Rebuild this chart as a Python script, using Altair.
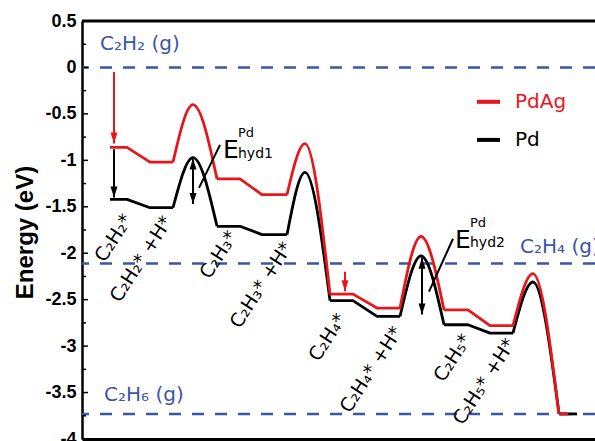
import altair as alt
import pandas as pd

# ---------------- data ----------------
# reaction-coordinate positions of the profile vertices (arbitrary units)
coord_pdag = [28, 45, 68, 91, 111, 135, 158, 180, 205, 223, 248, 271, 295, 318, 339, 362, 386, 408, 431, 451, 477, 486]
coord_pd = [28, 45, 68, 91, 111, 135, 158, 180, 205, 223, 248, 271, 295, 318, 339, 362, 386, 408, 431, 451, 477, 495]
energy_pdag = [-0.86, -0.86, -1.02, -1.02, -0.40, -1.20, -1.20, -1.37, -1.37, -0.82, -2.44, -2.44,
               -2.59, -2.59, -1.82, -2.61, -2.61, -2.78, -2.78, -2.22, -3.73, -3.73]
energy_pd = [-1.42, -1.42, -1.51, -1.51, -0.97, -1.71, -1.71, -1.80, -1.80, -1.13, -2.51, -2.51,
             -2.68, -2.68, -2.03, -2.77, -2.77, -2.86, -2.86, -2.31, -3.73, -3.73]
peak_index = [4, 9, 14, 19]   # vertices that are transition states

# gas-phase reference levels
gas_energy = [0.0, -2.11, -3.73]
gas_label = ["C₂H₂ (g)", "C₂H₄ (g)", "C₂H₆ (g)"]
gas_label_x = [18, 438, 22]
gas_label_e = [0.19, -1.995, -3.594]

# intermediate labels
state_label = ["C₂H₂*", "C₂H₂*  +H*", "C₂H₃*", "C₂H₃*  +H*", "C₂H₄*", "C₂H₄*  +H*", "C₂H₅*", "C₂H₅*  +H*"]
state_x = [46, 86, 151, 206, 260, 316, 385, 429]
state_e = [-1.60, -1.62, -1.78, -1.90, -2.67, -2.81, -2.89, -2.94]

# arrows: x, start, end, colour, double-headed
arrow_x = [32, 32, 263, 111, 340]
arrow_start = [-0.05, -0.88, -2.20, -0.98, -2.05]
arrow_end = [-0.82, -1.40, -2.41, -1.47, -2.66]
arrow_color = ["#e8161b", "black", "#e8161b", "black", "black"]
arrow_double = [False, False, False, True, True]

# leader lines for the barrier labels
leader_x = [138, 371]
leader_e = [-0.833, -1.844]
leader_x2 = [117, 347]
leader_e2 = [-1.296, -2.414]

# barrier labels E^Pd_hyd
elab_text = ["E", "Pd", "hyd1", "E", "Pd", "hyd2"]
elab_x = [141, 156, 156, 373, 388, 388]
elab_e = [-0.973, -0.747, -0.973, -1.94, -1.715, -1.93]
elab_size = [25, 13, 14, 25, 13, 14]

# legend
legend_name = ["PdAg", "Pd"]
legend_color = ["#e8161b", "black"]
legend_e = [-0.37, -0.78]
legend_x = [395, 395]
legend_x2 = [418, 418]
legend_tx = [433, 433]

# axis
x_domain = [0, 513]
y_domain = [-4, 0.5]
major_ticks = [-4, -3.5, -3, -2.5, -2, -1.5, -1, -0.5, 0, 0.5]
minor_ticks = [-3.75, -3.25, -2.75, -2.25, -1.75, -1.25, -0.75, -0.25, 0.25]

RED = "#e8161b"
BLUE = "#3b56a8"
W, H = 513, 418

xs = alt.Scale(domain=x_domain, nice=False, zero=False)
ys = alt.Scale(domain=y_domain, nice=False, zero=False)
xaxis = alt.Axis(labels=False, ticks=False, grid=False, title=None,
                 domainColor="black", domainWidth=3)
yaxis = alt.Axis(values=major_ticks, labelExpr="toString(datum.value)", grid=False,
                 ticks=False, labelFont="Liberation Sans", labelFontWeight="bold",
                 labelFontSize=18, labelColor="black", labelPadding=6,
                 domainColor="black", domainWidth=2.5,
                 title="Energy (eV)", titleFont="Liberation Sans", titleFontWeight="bold",
                 titleFontSize=24, titleColor="black", titleX=-50, titleY=211,
                 titleAngle=270, titleAlign="center", titleBaseline="alphabetic")


def X(f):
    return alt.X(f, type="quantitative", scale=xs, axis=xaxis)


def Y(f):
    return alt.Y(f, type="quantitative", scale=ys, axis=yaxis)


def split_profile(xv, ev):
    """Plateau/linear pieces and smooth barrier pieces of one profile."""
    lin, smooth = [], []
    bounds = [-1] + peak_index + [len(xv)]
    for k in range(len(bounds) - 1):
        a, b = bounds[k] + 1, bounds[k + 1] - 1
        for i in range(a, b + 1):
            lin.append({"x": xv[i], "E": ev[i], "seg": k})
    for k, p in enumerate(peak_index):
        for i in (p - 1, p, p + 1):
            smooth.append({"x": xv[i], "E": ev[i], "seg": k})
    return pd.DataFrame(lin), pd.DataFrame(smooth)


def profile_layers(xv, ev, color):
    lin, smooth = split_profile(xv, ev)
    a = alt.Chart(lin).mark_line(color=color, strokeWidth=2.8, strokeJoin="round").encode(
        x=X("x"), y=Y("E"), detail="seg:N", order="x:Q")
    b = alt.Chart(smooth).mark_line(interpolate="monotone", color=color, strokeWidth=2.8).encode(
        x=X("x"), y=Y("E"), detail="seg:N", order="x:Q")
    return [a, b]


df_gas = pd.DataFrame({"E": gas_energy})
df_gaslab = pd.DataFrame({"x": gas_label_x, "E": gas_label_e, "t": gas_label})
df_state = pd.DataFrame({"x": state_x, "E": state_e, "t": state_label})
df_arrow = pd.DataFrame({"x": arrow_x, "E": arrow_start, "E2": arrow_end, "c": arrow_color, "d": arrow_double})
df_lead = pd.DataFrame({"x": leader_x, "E": leader_e, "x2": leader_x2, "E2": leader_e2})
df_elab = pd.DataFrame({"x": elab_x, "E": elab_e, "t": elab_text, "s": elab_size})
df_leg = pd.DataFrame({"x": legend_x, "x2": legend_x2, "tx": legend_tx, "E": legend_e,
                       "t": legend_name, "c": legend_color})
df_major = pd.DataFrame({"E": major_ticks})
df_minor = pd.DataFrame({"E": minor_ticks})
df_top = pd.DataFrame({"E": [max(y_domain)]})

gas_lines = alt.Chart(df_gas).mark_rule(color=BLUE, strokeWidth=2.5, strokeDash=[12, 11]).encode(y=Y("E"))
gas_text = alt.Chart(df_gaslab).mark_text(align="left", baseline="alphabetic", font="DejaVu Sans",
                                          fontSize=20, color=BLUE).encode(x=X("x"), y=Y("E"), text="t:N")

state_text = alt.Chart(df_state).mark_text(align="right", baseline="middle", angle=303,
                                           font="DejaVu Sans", fontSize=19, color="black").encode(
    x=X("x"), y=Y("E"), text="t:N")

arrow_shaft = alt.Chart(df_arrow).mark_rule(strokeWidth=2).encode(
    x=X("x"), y=Y("E"), y2="E2:Q", color=alt.Color("c:N", scale=None))
head_down = alt.Chart(df_arrow).mark_point(shape="M0,0L-0.35,-1.1L0.35,-1.1Z", filled=True,
                                           size=400, opacity=1, strokeWidth=0).encode(
    x=X("x"), y=Y("E2"), color=alt.Color("c:N", scale=None))
head_up = alt.Chart(df_arrow).transform_filter("datum.d").mark_point(
    shape="M0,0L-0.35,1.1L0.35,1.1Z", filled=True, size=400, opacity=1, strokeWidth=0).encode(
    x=X("x"), y=Y("E"), color=alt.Color("c:N", scale=None))

leader = alt.Chart(df_lead).mark_rule(strokeWidth=2, color="black").encode(
    x=X("x"), y=Y("E"), x2="x2:Q", y2="E2:Q")

elab = alt.Chart(df_elab).mark_text(align="left", baseline="alphabetic", font="DejaVu Sans",
                                    color="black").encode(
    x=X("x"), y=Y("E"), text="t:N", size=alt.Size("s:Q", scale=None))

leg_line = alt.Chart(df_leg).mark_rule(strokeWidth=4).encode(
    x=X("x"), x2="x2:Q", y=Y("E"), color=alt.Color("c:N", scale=None))
leg_text = alt.Chart(df_leg).mark_text(align="left", baseline="middle", font="DejaVu Sans",
                                       fontSize=20).encode(
    x=X("tx"), y=Y("E"), text="t:N", color=alt.Color("c:N", scale=None))

tick_major = alt.Chart(df_major).mark_rule(color="black", strokeWidth=1.5).encode(
    y=Y("E"), x=alt.value(0), x2=alt.value(6))
tick_minor = alt.Chart(df_minor).mark_rule(color="black", strokeWidth=1.5).encode(
    y=Y("E"), x=alt.value(0), x2=alt.value(4))
top_line = alt.Chart(df_top).mark_rule(color="black", strokeWidth=3).encode(y=Y("E"))

layers = [gas_lines, gas_text]
layers += profile_layers(coord_pd, energy_pd, "black")
layers += profile_layers(coord_pdag, energy_pdag, RED)
layers += [state_text, arrow_shaft, head_down, head_up, leader, elab, leg_line, leg_text,
           tick_major, tick_minor, top_line]

chart = alt.layer(*layers).properties(
    width=W, height=H,
    padding={"left": 82, "top": 21, "right": 0, "bottom": 2},
    autosize=alt.AutoSizeParams(type="none"),
    background="white",
).configure_view(stroke=None)

chart.save("out.html", embed_options={"renderer": "svg", "actions": False})
